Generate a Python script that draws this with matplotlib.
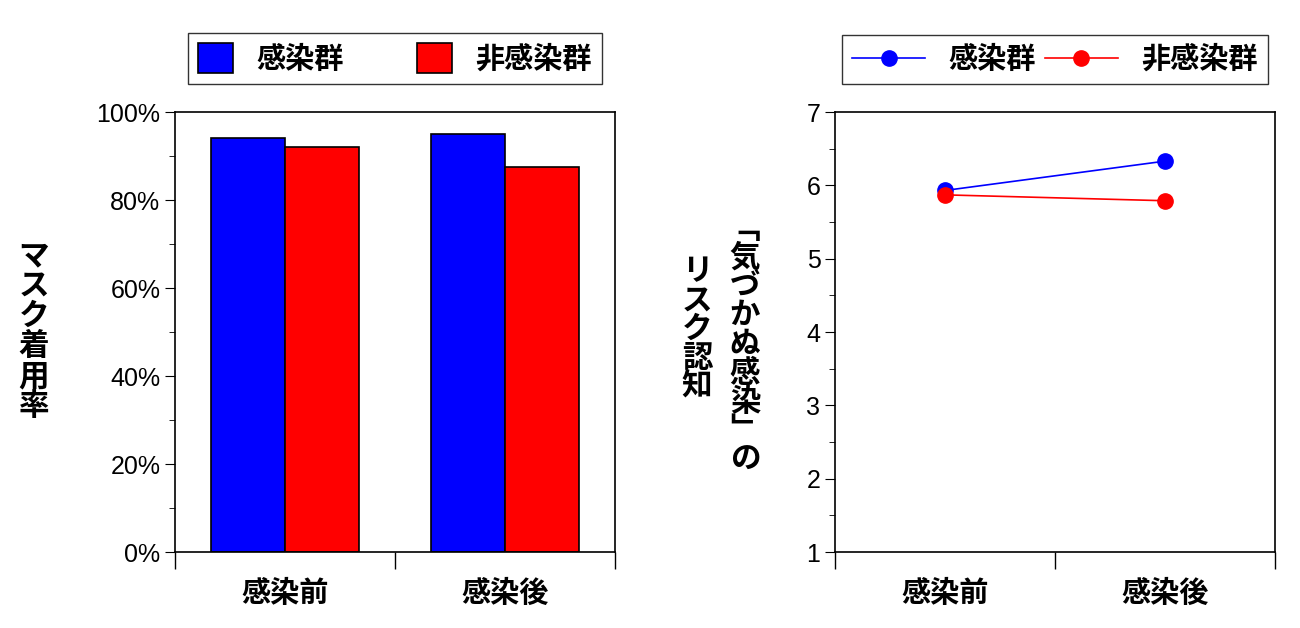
import numpy as np
import matplotlib.pyplot as plt
from matplotlib.ticker import MultipleLocator, FixedLocator, NullFormatter

plt.rcParams['font.family'] = ['Liberation Sans', 'Noto Sans CJK JP']

periods = ['感染前', '感染後']
groups = ['感染群', '非感染群']
mask_rate = {'感染群': [94.2, 95.0], '非感染群': [92.0, 87.5]}
risk = {'感染群': [5.93, 6.33], '非感染群': [5.87, 5.79]}
colors = {'感染群': '#0000ff', '非感染群': '#ff0000'}

fig = plt.figure(figsize=(13, 6.28), dpi=100)
W, H = 1300, 628
ax1 = fig.add_axes([175 / W, 1 - 552 / H, 440 / W, 440 / H])
ax2 = fig.add_axes([835 / W, 1 - 552 / H, 440 / W, 440 / H])

x = np.arange(len(periods)) + 0.5
bw = 0.335
for i, g in enumerate(groups):
    off = (i - 0.5) * bw
    ax1.bar(x + off, mask_rate[g], bw, color=colors[g], edgecolor='black', linewidth=1.2, label=g)
ax1.set_xlim(0, 2)
ax1.set_ylim(0, 100)
ax1.yaxis.set_major_locator(MultipleLocator(20))
ax1.yaxis.set_minor_locator(MultipleLocator(10))
ax1.set_yticklabels([f'{v:.0f}%' for v in ax1.get_yticks()])
ax1.set_ylabel('\n'.join('マスク着用率'), rotation=0, fontsize=22, fontweight='bold',
               labelpad=45, va='center', linespacing=1.0)
leg_font = {'size': 21, 'weight': 'bold'}
ax1.legend(loc='lower center', bbox_to_anchor=(0.5, 1.03), ncol=2, prop=leg_font, frameon=True,
           fancybox=False, edgecolor='black', handlelength=1.2, handleheight=1.2, columnspacing=2.5,
           borderpad=0.35)

for g in groups:
    ax2.plot(x, risk[g], '-o', color=colors[g], markersize=11, linewidth=1.2, label=g)
ax2.set_xlim(0, 2)
ax2.set_ylim(1, 7)
ax2.yaxis.set_major_locator(MultipleLocator(1))
ax2.yaxis.set_minor_locator(MultipleLocator(0.5))
ax2.legend(loc='lower center', bbox_to_anchor=(0.5, 1.03), ncol=2, prop=leg_font, frameon=True,
           fancybox=False, edgecolor='black', handlelength=2.5, columnspacing=0.3, handletextpad=0.8,
           borderpad=0.35)
col1 = '\n'.join(['﹁', '気', 'づ', 'か', 'ぬ', '感', '染', '﹂', 'の'])
col2 = '\n'.join('リスク認知')
fig.text(745 / W, 1 - 345 / H, col1, fontsize=22, fontweight='bold', ha='center', va='center', linespacing=0.95)
fig.text(697 / W, 1 - 330 / H, col2, fontsize=22, fontweight='bold', ha='center', va='center', linespacing=0.95)

for ax in (ax1, ax2):
    ax.xaxis.set_major_locator(FixedLocator([0, 1, 2]))
    ax.xaxis.set_major_formatter(NullFormatter())
    ax.xaxis.set_minor_locator(FixedLocator(x))
    ax.set_xticklabels(periods, minor=True, fontsize=21, fontweight='bold')
    ax.tick_params(axis='x', which='major', direction='out', length=12, width=1)
    ax.tick_params(axis='x', which='minor', length=0, pad=20)
    ax.tick_params(axis='y', which='major', direction='out', length=7, labelsize=18)
    ax.tick_params(axis='y', which='minor', direction='out', length=4)
    for s in ax.spines.values():
        s.set_linewidth(1.2)

fig.savefig('out.png', dpi=100)
